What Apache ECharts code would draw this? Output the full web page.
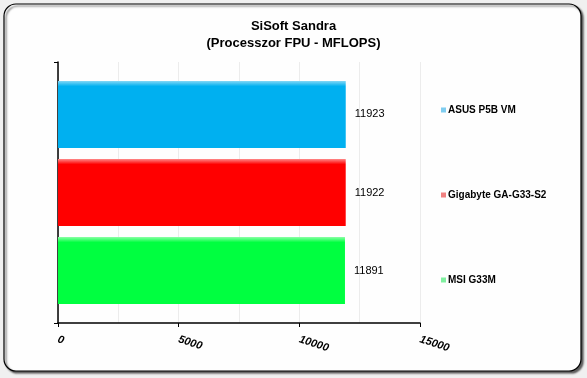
<!DOCTYPE html>
<html>
<head>
<meta charset="utf-8">
<script src="https://cdn.jsdelivr.net/npm/echarts@6/dist/echarts.min.js"></script>
<style>
    html, body { margin: 0; padding: 0; background: #f0f0f0; }
    #chart { width: 587px; height: 378px; }
</style>
</head>
<body>
<div id="chart"></div>
<script>
    // 主板名称 (从上到下)
    const boards = ['ASUS P5B VM', 'Gigabyte GA-G33-S2', 'MSI G33M'];
    // MFLOPS 结果
    const scores = [11923, 11922, 11891];
    const category = ['Processzor FPU'];
    const barColors = ['#00b0f0', '#ff0000', '#00ff40'];
    const barTopColors = ['#86d8f6', '#ff8a8a', '#8affa6'];
    const legendColors = ['#7fcdf0', '#f08080', '#80f0a0'];
    const xTicks = [0, 5000, 10000, 15000];

    const chart = echarts.init(document.getElementById('chart'));

    const series = boards.map((name, i) => ({
        name: name,
        type: 'bar',
        barCategoryGap: '14.5%',
        barGap: '16.4%',
        data: [scores[i]],
        itemStyle: {
            color: {
                type: 'linear',
                x: 0, y: 0, x2: 0, y2: 1,
                colorStops: [
                    { offset: 0, color: barTopColors[i] },
                    { offset: 0.08, color: barColors[i] },
                    { offset: 1, color: barColors[i] }
                ]
            }
        },
        label: {
            show: true,
            position: 'right',
            distance: 9,
            color: '#000',
            fontFamily: 'Arial, "Liberation Sans"',
            fontSize: 11
        }
    }));

    const option = {
        animation: false,
        graphic: [{
            type: 'rect',
            z: -10,
            shape: { x: 4, y: 4, width: 577, height: 367, r: 12 },
            style: {
                fill: '#fefefe',
                stroke: '#000',
                lineWidth: 1.2,
                shadowColor: 'rgba(0,0,0,0.6)',
                shadowBlur: 2,
                shadowOffsetX: 2,
                shadowOffsetY: 2
            }
        }],
        title: {
            text: 'SiSoft Sandra\n(Processzor FPU - MFLOPS)',
            left: 'center',
            top: 13,
            textStyle: {
                fontFamily: 'Arial, "Liberation Sans"',
                fontSize: 13,
                fontWeight: 'bold',
                color: '#000',
                lineHeight: 17
            }
        },
        legend: {
            orient: 'vertical',
            left: 436,
            top: 100,
            itemWidth: 5,
            itemHeight: 5,
            itemGap: 75,
            icon: 'rect',
            data: boards.map((name, i) => ({
                name: name,
                itemStyle: { color: legendColors[i] }
            })),
            textStyle: {
                fontFamily: 'Arial, "Liberation Sans"',
                fontSize: 10,
                fontWeight: 'bold',
                color: '#000',
                padding: [0, 0, 0, -3]
            }
        },
        grid: {
            left: 58,
            right: 167,
            top: 62,
            bottom: 55
        },
        xAxis: {
            type: 'value',
            min: xTicks[0],
            max: xTicks[xTicks.length - 1],
            interval: 5000,
            axisLine: { show: true, lineStyle: { color: '#000', width: 1.5 } },
            axisTick: { show: true, length: 4, lineStyle: { color: '#000' } },
            axisLabel: {
                rotate: -18,
                margin: 16,
                formatter: v => String(v),
                fontFamily: 'Arial, "Liberation Sans"',
                fontSize: 11,
                fontWeight: 'bold',
                fontStyle: 'italic',
                color: '#000'
            },
            splitLine: { show: true, lineStyle: { color: '#ececec' } },
            minorTick: { show: false, splitNumber: 2 },
            minorSplitLine: { show: true, lineStyle: { color: '#ececec' } }
        },
        yAxis: {
            type: 'category',
            inverse: true,
            data: category,
            axisLine: { show: true, lineStyle: { color: '#000', width: 1.5 } },
            axisTick: { show: true, length: 4, lineStyle: { color: '#000' } },
            axisLabel: { show: false }
        },
        series: series
    };

    chart.setOption(option);
</script>
</body>
</html>
